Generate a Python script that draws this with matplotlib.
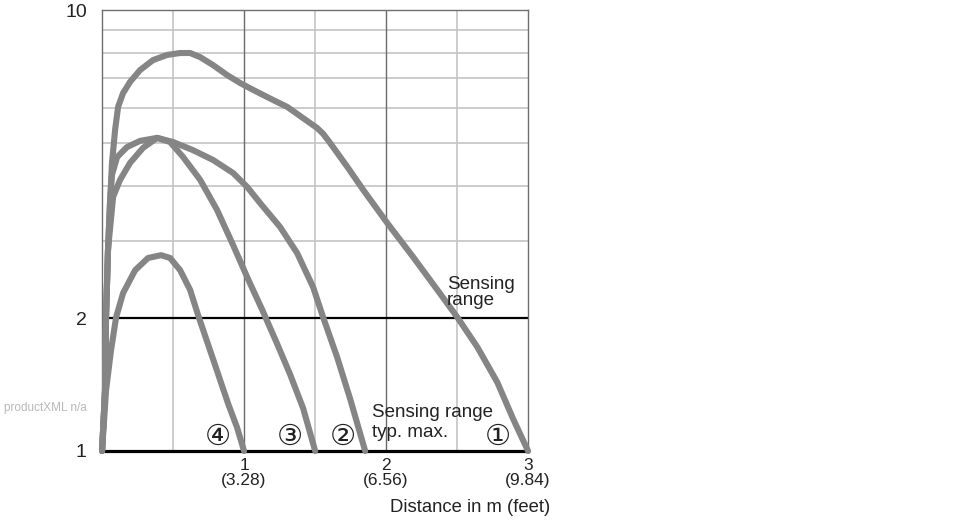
import matplotlib.pyplot as plt

# distance in m, relative value (log scale)
x1 = [0, 0.021, 0.028, 0.042, 0.056, 0.070, 0.092, 0.113, 0.148, 0.197, 0.268, 0.359,
      0.458, 0.550, 0.620, 0.691, 0.782, 0.881, 0.973, 1.064, 1.205, 1.304, 1.395,
      1.515, 1.557, 1.607, 1.727, 1.839, 2.008, 2.192, 2.361, 2.502, 2.643, 2.784,
      2.896, 3.0]
y1 = [1, 1.37, 2.01, 2.86, 3.65, 4.50, 5.35, 6.03, 6.48, 6.87, 7.31, 7.70,
      7.91, 7.99, 7.99, 7.82, 7.50, 7.12, 6.83, 6.59, 6.25, 6.03, 5.75,
      5.40, 5.24, 4.99, 4.41, 3.91, 3.29, 2.75, 2.32, 2.01, 1.72, 1.43,
      1.18, 1]

x2 = [0, 0.021, 0.028, 0.042, 0.056, 0.070, 0.106, 0.176, 0.268, 0.388, 0.500, 0.641,
      0.782, 0.923, 1.022, 1.113, 1.254, 1.374, 1.487, 1.557, 1.656, 1.748, 1.853]
y2 = [1, 1.37, 2.01, 2.86, 3.65, 4.23, 4.64, 4.89, 5.05, 5.13, 5.02, 4.81,
      4.57, 4.27, 3.97, 3.65, 3.22, 2.81, 2.35, 2.01, 1.63, 1.31, 1]

x3 = [0, 0.021, 0.028, 0.042, 0.078, 0.127, 0.197, 0.289, 0.388, 0.479, 0.571, 0.691,
      0.810, 0.923, 1.029, 1.128, 1.233, 1.325, 1.416, 1.501]
y3 = [1, 1.37, 2.01, 2.86, 3.77, 4.12, 4.50, 4.87, 5.13, 5.02, 4.64, 4.12,
      3.52, 2.93, 2.45, 2.09, 1.75, 1.49, 1.25, 1]

x4 = [0, 0.028, 0.063, 0.099, 0.148, 0.233, 0.324, 0.416, 0.479, 0.550, 0.620, 0.677,
      0.775, 0.888, 0.951, 1.0]
y4 = [1, 1.37, 1.69, 2.01, 2.28, 2.57, 2.74, 2.78, 2.74, 2.57, 2.32, 2.03,
      1.64, 1.28, 1.13, 1]

curve_labels = ['\u2460', '\u2461', '\u2462', '\u2463']
label_x = [2.784, 1.698, 1.325, 0.817]

xticks = [1, 2, 3]
xticklabels = ['1\n(3.28)', '2\n(6.56)', '3\n(9.84)']
yticks = [1, 2, 10]
yticklabels = ['1', '2', '10']

plt.rcParams['font.family'] = ['Liberation Sans', 'DejaVu Sans', 'Noto Sans CJK JP']

fig = plt.figure(figsize=(9.7, 5.2), dpi=100)
ax = fig.add_axes([0.1052, 0.1327, 0.4392, 0.848])
ax.set_yscale('log')
ax.set_xlim(0, 3)
ax.set_ylim(1, 10)

# grid
for v in [3, 4, 5, 6, 7, 8, 9]:
    ax.axhline(v, color='#c4c4c4', lw=1.2, zorder=1)
for v in [0.5, 1.5, 2.5]:
    ax.axvline(v, color='#c4c4c4', lw=1.2, zorder=1)
for v in [1, 2]:
    ax.axvline(v, color='#6a6a6a', lw=1.0, zorder=1)
ax.axhline(2, color='black', lw=1.6, zorder=2)

for s in ['top', 'right', 'left']:
    ax.spines[s].set_color('#6e6e6e')
    ax.spines[s].set_linewidth(1.0)
ax.spines['bottom'].set_color('black')
ax.spines['bottom'].set_linewidth(2.3)

for xs, ys in [(x1, y1), (x2, y2), (x3, y3), (x4, y4)]:
    ax.plot(xs, ys, color='#858585', lw=4.4, solid_capstyle='round',
            solid_joinstyle='round', clip_on=False, zorder=3)

ax.minorticks_off()
ax.set_yticks(yticks)
ax.set_yticklabels(yticklabels)
ax.set_xticks(xticks)
ax.set_xticklabels(xticklabels, linespacing=1.0)
ax.tick_params(axis='y', length=0, pad=11, labelsize=14, labelcolor='#222222')
ax.tick_params(axis='x', length=0, pad=5, labelsize=12.5, labelcolor='#222222')

for lab, lx in zip(curve_labels, label_x):
    ax.text(lx, 1.076, lab, fontsize=21, ha='center', va='center', color='#222222',
            family=['DejaVu Sans', 'Noto Sans CJK JP'])

ax.text(2.43, 2.29, 'Sensing\nrange', fontsize=13.5, ha='left', va='center',
        color='#222222', linespacing=0.95)
ax.text(1.9, 1.22, 'Sensing range', fontsize=13.5, ha='left', va='center',
        color='#222222')
ax.text(1.9, 1.10, 'typ. max.', fontsize=13.5, ha='left', va='center',
        color='#222222')

fig.text(0.567, 0.007, 'Distance in m (feet)', fontsize=13.3, ha='right', va='bottom',
         color='#222222')
fig.text(0.004, 0.215, 'productXML n/a', fontsize=8.5, ha='left', va='center',
         color='#b8b8b8')

fig.savefig('out.png', dpi=100)
